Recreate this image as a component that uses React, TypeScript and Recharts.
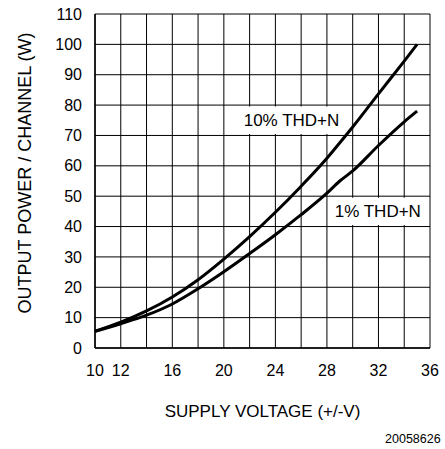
import React from "react";
import {
  LineChart,
  Line,
  XAxis,
  YAxis,
  CartesianGrid,
  ReferenceArea,
  Label,
} from "recharts";

const voltage = [10, 12, 14, 16, 18, 20, 22, 24, 26, 28, 29, 30, 32, 34, 35];
const thd10 = [5.5, 8.5, 12.2, 16.8, 22.5, 29.3, 36.7, 44.7, 53.3, 62.5, 67.6, 72.8, 83.7, 94.5, 100];
const thd1 = [5.5, 8.0, 10.8, 14.5, 19.5, 25.1, 31.1, 37.3, 43.9, 51.0, 55.0, 58.3, 66.7, 74.5, 78];

const xTicks = [10, 12, 14, 16, 18, 20, 22, 24, 26, 28, 30, 32, 34, 36];
const xLabeled = [10, 12, 16, 20, 24, 28, 32, 36];
const yTicks = [0, 10, 20, 30, 40, 50, 60, 70, 80, 90, 100, 110];

const data = voltage.map((v, i) => ({ v, thd10: thd10[i], thd1: thd1[i] }));

const FONT = "'Liberation Sans', Arial, Helvetica, sans-serif";

export default function App() {
  return (
    <div style={{ position: "absolute", left: 0, top: 0, width: 445, height: 449, background: "#fff" }}>
      <LineChart
        width={445}
        height={449}
        data={data}
        margin={{ top: 14, right: 15, bottom: 0, left: 0 }}
        style={{ fontFamily: FONT }}
      >
        <CartesianGrid stroke="#000" strokeWidth={1} strokeOpacity={1} />
        <XAxis
          dataKey="v"
          type="number"
          domain={[10, 36]}
          ticks={xTicks}
          interval={0}
          tickFormatter={(t: number) => (xLabeled.includes(t) ? String(t) : "")}
          height={101}
          tickLine={false}
          tickSize={0}
          tickMargin={17}
          axisLine={{ stroke: "#000", strokeWidth: 1.5 }}
          tick={{ fill: "#000", fontSize: 16, fontFamily: FONT }}
        >
          <Label
            value="SUPPLY VOLTAGE (+/-V)"
            position="insideBottom"
            offset={32}
            style={{ fill: "#000", fontSize: 17, fontFamily: FONT }}
          />
          <Label
            content={() => (
              <text x={440.7} y={443} textAnchor="end" fill="#000" fontSize={12.5} fontFamily={FONT}>
                20058626
              </text>
            )}
          />
        </XAxis>
        <YAxis
          type="number"
          domain={[0, 110]}
          ticks={yTicks}
          interval={0}
          width={95}
          tickLine={false}
          tickSize={0}
          tickMargin={13}
          axisLine={{ stroke: "#000", strokeWidth: 1.5 }}
          tick={{ fill: "#000", fontSize: 16, fontFamily: FONT }}
        >
          <Label
            content={() => (
              <text
                x={25}
                y={173}
                transform="rotate(-90 25 173)"
                textAnchor="middle"
                dominantBaseline="central"
                fill="#000"
                fontSize={18}
                fontFamily={FONT}
              >
                OUTPUT POWER / CHANNEL (W)
              </text>
            )}
          />
        </YAxis>
        <ReferenceArea
          x1={21.3}
          x2={29.2}
          y1={70.5}
          y2={79.5}
          fill="#fff"
          fillOpacity={1}
          stroke="none"
          label={{ value: "10% THD+N", position: "center", fill: "#000", fontSize: 17, fontFamily: FONT }}
        />
        <ReferenceArea
          x1={28.3}
          x2={35.6}
          y1={40.5}
          y2={49.5}
          fill="#fff"
          fillOpacity={1}
          stroke="none"
          label={{ value: "1% THD+N", position: "center", fill: "#000", fontSize: 17, fontFamily: FONT }}
        />
        <Line
          type="monotone"
          dataKey="thd10"
          stroke="#000"
          strokeWidth={3}
          dot={false}
          isAnimationActive={false}
        />
        <Line
          type="monotone"
          dataKey="thd1"
          stroke="#000"
          strokeWidth={3}
          dot={false}
          isAnimationActive={false}
        />
      </LineChart>
    </div>
  );
}
